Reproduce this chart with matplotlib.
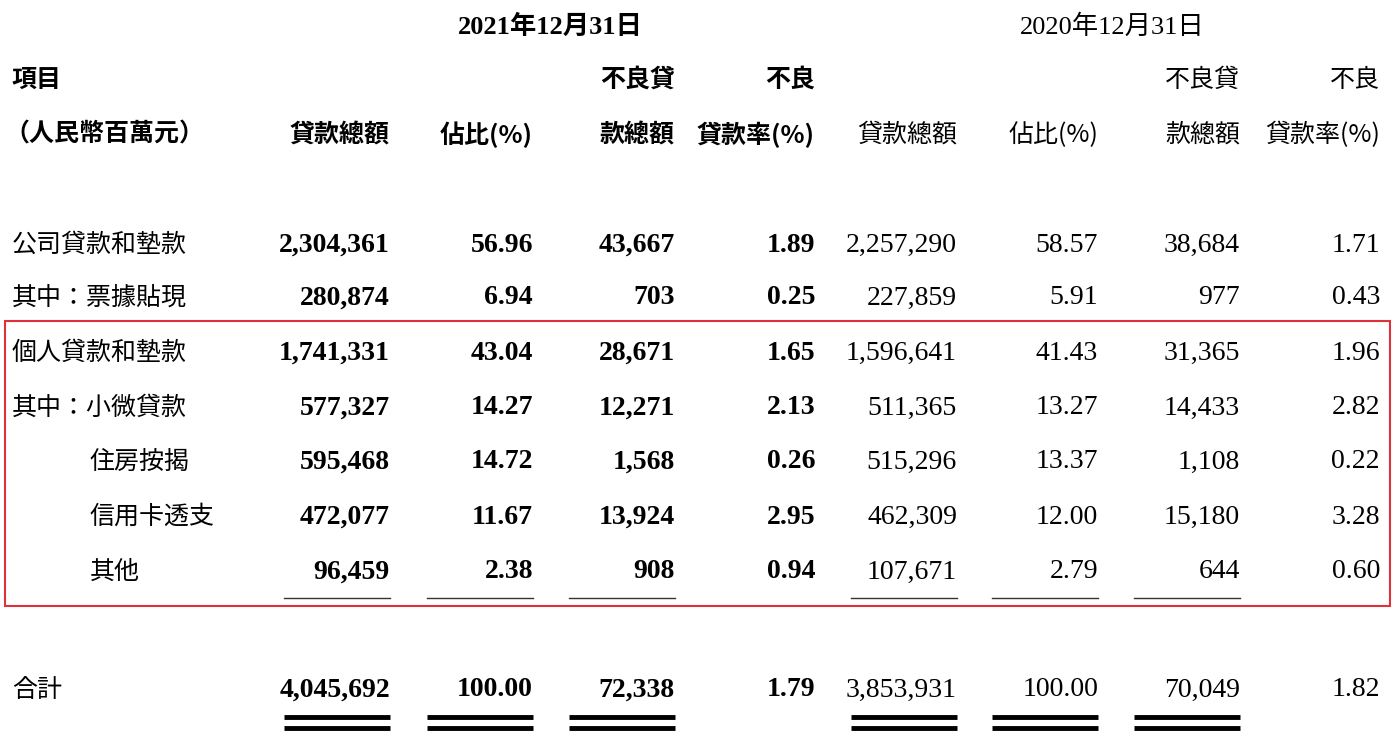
import matplotlib
matplotlib.use("Agg")
import matplotlib.pyplot as plt
from matplotlib.patches import Rectangle
from matplotlib import font_manager as fm

row_labels = ["公司貸款和墊款", "其中：票據貼現", "個人貸款和墊款", "其中：小微貸款", "住房按揭", "信用卡透支", "其他"]
indent = [False, False, False, False, True, True, True]
loan_2021 = ["2,304,361", "280,874", "1,741,331", "577,327", "595,468", "472,077", "96,459"]
share_2021 = ["56.96", "6.94", "43.04", "14.27", "14.72", "11.67", "2.38"]
npl_2021 = ["43,667", "703", "28,671", "12,271", "1,568", "13,924", "908"]
rate_2021 = ["1.89", "0.25", "1.65", "2.13", "0.26", "2.95", "0.94"]
loan_2020 = ["2,257,290", "227,859", "1,596,641", "511,365", "515,296", "462,309", "107,671"]
share_2020 = ["58.57", "5.91", "41.43", "13.27", "13.37", "12.00", "2.79"]
npl_2020 = ["38,684", "977", "31,365", "14,433", "1,108", "15,180", "644"]
rate_2020 = ["1.71", "0.43", "1.96", "2.82", "0.22", "3.28", "0.60"]
total_2021 = ["4,045,692", "100.00", "72,338", "1.79"]
total_2020 = ["3,853,931", "100.00", "70,049", "1.82"]

names = sorted({f.name for f in fm.fontManager.ttflist if "CJK" in f.name})
CJK = next((n for n in ["Noto Sans CJK TC", "Noto Sans CJK SC", "Noto Sans CJK JP"] if n in names), names[0] if names else "DejaVu Sans")
NUM = "Liberation Serif"
MIX = [NUM, CJK]

fig = plt.figure(figsize=(13.96, 7.36), dpi=100)
ax = fig.add_axes([0, 0, 1, 1])
ax.set_xlim(0, 1396); ax.set_ylim(736, 0); ax.axis("off")

col_x = [390, 533, 675, 815, 957, 1098, 1240, 1380]
ax.text(550, 27, "2021年12月31日", fontfamily=MIX, fontsize=19, fontweight="bold", ha="center", va="center")
ax.text(1112, 27, "2020年12月31日", fontfamily=MIX, fontsize=19, ha="center", va="center")
ax.text(12, 80, "項目", fontfamily=CJK, fontsize=18, fontweight="bold", va="center")
ax.text(4, 135, "（人民幣百萬元）", fontfamily=CJK, fontsize=18, fontweight="bold", va="center")
heads1 = ["", "", "不良貸", "不良"]
heads2 = ["貸款總額", "佔比(%)", "款總額", "貸款率(%)"]
for k in range(8):
    w = "bold" if k < 4 else "normal"
    if heads1[k % 4]:
        ax.text(col_x[k], 80, heads1[k % 4], fontfamily=CJK, fontsize=18, fontweight=w, ha="right", va="center")
    ax.text(col_x[k], 135, heads2[k % 4], fontfamily=CJK, fontsize=18, fontweight=w, ha="right", va="center")

row_y = [245, 298, 353, 408, 462, 517, 572]
cols = [loan_2021, share_2021, npl_2021, rate_2021, loan_2020, share_2020, npl_2020, rate_2020]
for i, lab in enumerate(row_labels):
    ax.text(90 if indent[i] else 12, row_y[i], lab, fontfamily=CJK, fontsize=18, va="center")
    for k, c in enumerate(cols):
        ax.text(col_x[k], row_y[i], c[i], fontfamily=NUM, fontsize=20,
                fontweight="bold" if k < 4 else "normal", ha="right", va="center")

ax.text(12, 690, "合計", fontfamily=CJK, fontsize=18, va="center")
for k, v in enumerate(total_2021 + total_2020):
    ax.text(col_x[k], 690, v, fontfamily=NUM, fontsize=20,
            fontweight="bold" if k < 4 else "normal", ha="right", va="center")

line_cols = [0, 1, 2, 4, 5, 6]
for k in line_cols:
    x1 = col_x[k]; x0 = x1 - 106
    ax.plot([x0, x1], [598, 598], color="#333333", lw=1)
    ax.plot([x0, x1], [717, 717], color="black", lw=3.5, solid_capstyle="butt")
    ax.plot([x0, x1], [728, 728], color="black", lw=3.5, solid_capstyle="butt")

ax.add_patch(Rectangle((5, 321), 1385, 285, fill=False, edgecolor="#e0303a", lw=1.5))
fig.savefig("out.png", dpi=100)
